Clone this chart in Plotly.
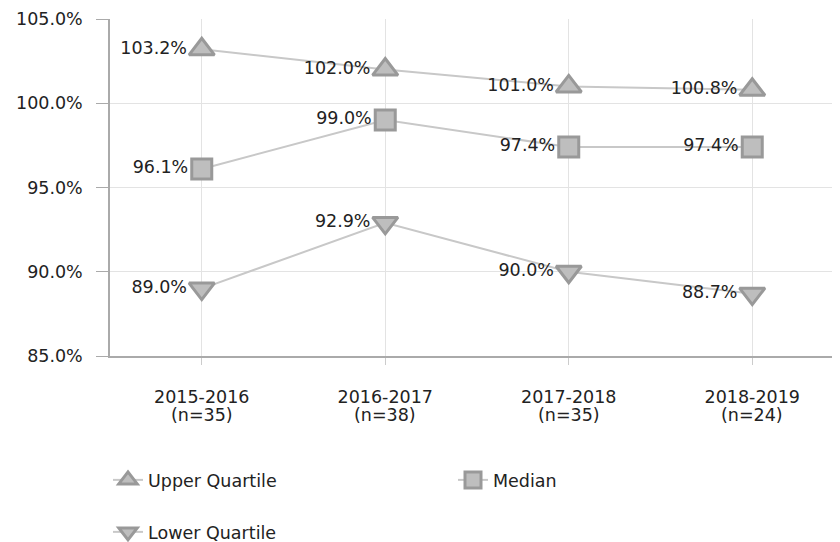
import plotly.graph_objects as go

periods = ["2015-2016", "2016-2017", "2017-2018", "2018-2019"]
counts = ["(n=35)", "(n=38)", "(n=35)", "(n=24)"]
upper = [103.2, 102.0, 101.0, 100.8]
median = [96.1, 99.0, 97.4, 97.4]
lower = [89.0, 92.9, 90.0, 88.7]
y_ticks = [85, 90, 95, 100, 105]
y_tick_labels = ["85.0%", "90.0%", "95.0%", "100.0%", "105.0%"]

FONT = "DejaVu Sans"
FS = 17.5
TXT = "#222222"
fill = "#bebebe"
edge = "#999999"
linec = "#c8c8c8"

# page body has an 8px margin; figure coords = screenshot coords - 8
OFF = 8
W, H = 840, 542

xs = list(range(len(periods)))
fig = go.Figure()
def add(name, vals, symbol, size, legend):
    fig.add_trace(go.Scatter(
        x=xs, y=vals, name=name, mode="lines+markers+text",
        line=dict(color=linec, width=2),
        marker=dict(symbol=symbol, size=size, color=fill, line=dict(color=edge, width=3)),
        text=[f"{v:.1f}%" for v in vals], textposition="middle left",
        textfont=dict(family=FONT, size=FS, color=TXT),
        legend=legend, cliponaxis=False,
    ))

add("Upper Quartile", upper, "triangle-up", 22, "legend")
add("Median", median, "square", 20, "legend")
add("Lower Quartile", lower, "triangle-down", 22, "legend2")

for i, c in enumerate(counts):
    fig.add_annotation(x=i, y=0, xref="x", yref="paper", text=c, showarrow=False,
                       yshift=-59, yanchor="middle", xanchor="center",
                       font=dict(family=FONT, size=FS, color=TXT))

fig.update_layout(
    width=W, height=H,
    margin=dict(l=110 - OFF, r=4, t=19 - OFF, b=H - (356 - OFF)),
    plot_bgcolor="white", paper_bgcolor="white",
    font=dict(family=FONT, size=FS, color=TXT),
    xaxis=dict(
        range=[-0.5, 3.5], tickvals=xs, ticktext=periods, automargin=False,
        showgrid=True, gridcolor="#e3e3e3", gridwidth=1,
        ticks="outside", ticklen=7, tickcolor="#cccccc",
        showline=True, linecolor="#aaaaaa", linewidth=1.5,
        ticklabelstandoff=17, zeroline=False,
        tickfont=dict(family=FONT, size=FS, color=TXT),
    ),
    yaxis=dict(
        range=[85, 105], tickvals=y_ticks, ticktext=y_tick_labels, automargin=False,
        showgrid=True, gridcolor="#e3e3e3", gridwidth=1,
        ticks="outside", ticklen=12, tickcolor="#aaaaaa",
        showline=True, linecolor="#aaaaaa", linewidth=1.5,
        ticklabelstandoff=10, zeroline=False,
        tickfont=dict(family=FONT, size=FS, color=TXT),
    ),
    legend=dict(orientation="h", x=(108 - OFF) / W, xanchor="left",
                y=1 - (480 - OFF) / H, yanchor="middle",
                xref="container", yref="container", entrywidth=300, entrywidthmode="pixels",
                font=dict(family=FONT, size=FS, color=TXT), bgcolor="rgba(0,0,0,0)"),
    legend2=dict(orientation="h", x=(108 - OFF) / W, xanchor="left",
                 y=1 - (532 - OFF) / H, yanchor="middle",
                 xref="container", yref="container",
                 font=dict(family=FONT, size=FS, color=TXT), bgcolor="rgba(0,0,0,0)"),
)

fig.write_html("out.html")
